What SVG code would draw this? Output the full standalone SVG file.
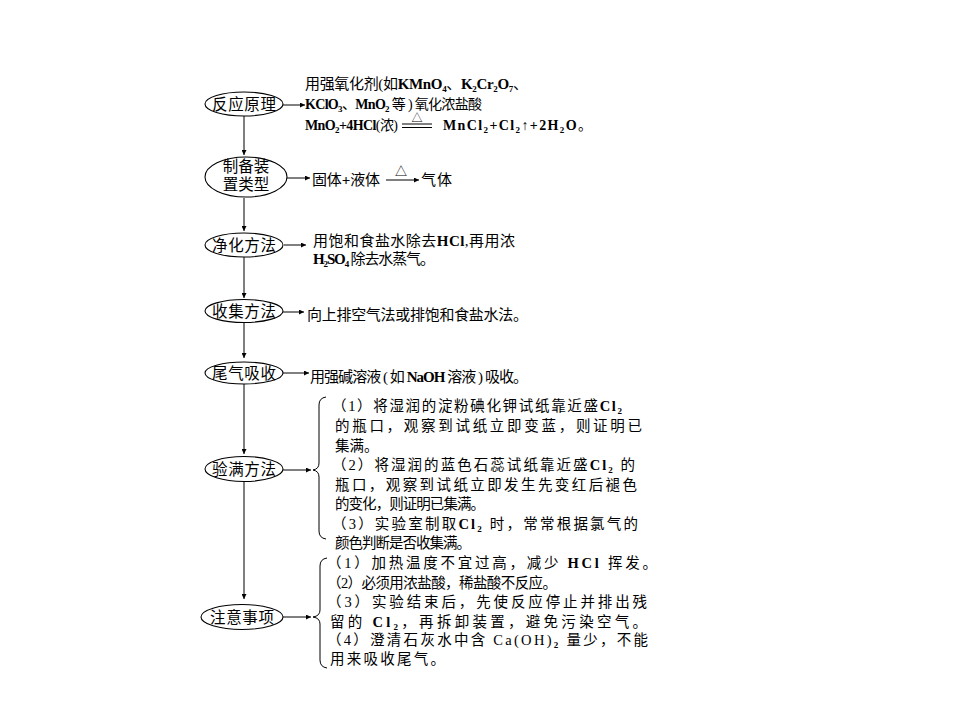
<svg xmlns="http://www.w3.org/2000/svg" width="960" height="720" viewBox="0 0 960 720">
<style>
text{font-family:"Liberation Serif","Noto Sans CJK SC",serif;fill:#000;}
.lb{font-size:15.5px;text-anchor:middle;}
.t{font-size:15px;}
.t2{font-size:14px;}
.b{font-size:14.5px;}
.lat{font-weight:bold;}
.s{font-size:9px;font-weight:bold;}
.el{fill:#fff;stroke:#000;stroke-width:1.1;}
.ln{stroke:#000;stroke-width:1;fill:none;}
</style>
<defs>
<marker id="ah" viewBox="0 0 10 10" refX="10" refY="5" markerWidth="7" markerHeight="5" orient="auto" markerUnits="userSpaceOnUse"><path d="M0,0 L10,5 L0,10 z" fill="#000"/></marker>
</defs>
<rect width="960" height="720" fill="#fff"/>

<g id="connectors">
<line class="ln" x1="244" y1="116" x2="244" y2="155" marker-end="url(#ah)"/>
<line class="ln" x1="244" y1="198" x2="244" y2="231" marker-end="url(#ah)"/>
<line class="ln" x1="244" y1="257" x2="244" y2="298" marker-end="url(#ah)"/>
<line class="ln" x1="244" y1="322" x2="244" y2="358" marker-end="url(#ah)"/>
<line class="ln" x1="244" y1="384" x2="244" y2="454" marker-end="url(#ah)"/>
<line class="ln" x1="244" y1="481" x2="244" y2="599" marker-end="url(#ah)"/>
<line class="ln" x1="283" y1="105" x2="305" y2="105" marker-end="url(#ah)"/>
<line class="ln" x1="287" y1="178" x2="310" y2="178" marker-end="url(#ah)"/>
<line class="ln" x1="284" y1="245" x2="306" y2="245" marker-end="url(#ah)"/>
<line class="ln" x1="283" y1="312" x2="304" y2="312" marker-end="url(#ah)"/>
<line class="ln" x1="283" y1="373" x2="309" y2="373" marker-end="url(#ah)"/>
<line class="ln" x1="283" y1="470" x2="311" y2="470" marker-end="url(#ah)"/>
<line class="ln" x1="283" y1="617" x2="311" y2="617" marker-end="url(#ah)"/>
</g>

<g id="n1">
<ellipse class="el" cx="244" cy="104" rx="39" ry="12"/>
<text class="lb" x="244" y="110" textLength="64">反应原理</text>
</g>
<g id="n2">
<ellipse class="el" cx="246" cy="177" rx="41" ry="20"/>
<text class="lb" x="246" y="172">制备装</text>
<text class="lb" x="246" y="190">置类型</text>
</g>
<g id="n3">
<ellipse class="el" cx="244" cy="245" rx="39" ry="12"/>
<text class="lb" x="244" y="251" textLength="64">净化方法</text>
</g>
<g id="n4">
<ellipse class="el" cx="244" cy="311" rx="39" ry="11.5"/>
<text class="lb" x="244" y="317" textLength="64">收集方法</text>
</g>
<g id="n5">
<ellipse class="el" cx="244" cy="373" rx="39" ry="11"/>
<text class="lb" x="244" y="379" textLength="64">尾气吸收</text>
</g>
<g id="n6">
<ellipse class="el" cx="244" cy="469" rx="39" ry="12.5"/>
<text class="lb" x="244" y="475" textLength="64">验满方法</text>
</g>
<g id="n7">
<ellipse class="el" cx="242" cy="617" rx="41" ry="12.5"/>
<text class="lb" x="242" y="623" textLength="64">注意事项</text>
</g>

<g id="t1">
<text class="t" x="305" y="89" textLength="223">用强氧化剂(如<tspan class="lat">KMnO</tspan><tspan class="s" dy="3">4</tspan><tspan dy="-3">、</tspan><tspan class="lat">K</tspan><tspan class="s" dy="3">2</tspan><tspan class="lat" dy="-3">Cr</tspan><tspan class="s" dy="3">2</tspan><tspan class="lat" dy="-3">O</tspan><tspan class="s" dy="3">7</tspan><tspan dy="-3">、</tspan></text>
<text class="t2" x="305" y="109" textLength="177"><tspan class="lat">KClO</tspan><tspan class="s" dy="3">3</tspan><tspan dy="-3">、</tspan><tspan class="lat">MnO</tspan><tspan class="s" dy="3">2</tspan><tspan dy="-3"> 等 ) 氧化浓盐酸</tspan></text>
<text x="305" y="130" font-size="14" textLength="93"><tspan class="lat">MnO</tspan><tspan class="s" dy="3">2</tspan><tspan class="lat" dy="-3">+4HCl</tspan>(浓)</text>
<line class="ln" x1="402" y1="124" x2="432" y2="124"/>
<line class="ln" x1="402" y1="127.5" x2="432" y2="127.5"/>
<text x="417" y="122" font-size="11" text-anchor="middle">△</text>
<text x="443" y="130" font-size="14" textLength="149"><tspan class="lat">MnCl</tspan><tspan class="s" dy="3">2</tspan><tspan class="lat" dy="-3">+Cl</tspan><tspan class="s" dy="3">2</tspan><tspan dy="-3">↑</tspan><tspan class="lat">+2H</tspan><tspan class="s" dy="3">2</tspan><tspan class="lat" dy="-3">O</tspan>。</text>
</g>

<g id="t2">
<text class="t" x="312" y="185" textLength="68">固体<tspan class="lat">+</tspan>液体</text>
<line class="ln" x1="386" y1="180" x2="419" y2="180" marker-end="url(#ah)"/>
<text x="401" y="176" font-size="12" text-anchor="middle">△</text>
<text class="t" x="421" y="185" textLength="31">气体</text>
</g>

<g id="t3">
<text class="t" x="313" y="246" textLength="202">用饱和食盐水除去<tspan class="lat">HCl</tspan>,再用浓</text>
<text class="t" x="313" y="264" textLength="122"><tspan class="lat">H</tspan><tspan class="s" dy="3">2</tspan><tspan class="lat" dy="-3">SO</tspan><tspan class="s" dy="3">4</tspan><tspan dy="-3"> 除去水蒸气。</tspan></text>
</g>

<g id="t4">
<text class="t" x="307" y="320" textLength="221">向上排空气法或排饱和食盐水法。</text>
</g>

<g id="t5">
<text class="t" x="310" y="382" textLength="218">用强碱溶液 ( 如 <tspan class="lat">NaOH</tspan> 溶液 ) 吸收。</text>
</g>

<g id="t6">
<path class="ln" d="M326,397 Q319,398 319,405 L319,463 Q319,469 313,470 Q319,471 319,477 L319,531 Q319,538 326,539"/>
<text class="b" x="332" y="411" textLength="290">（1）将湿润的淀粉碘化钾试纸靠近盛<tspan class="lat">Cl</tspan><tspan class="s" dy="3">2</tspan></text>
<text class="b" x="335" y="431" textLength="307">的瓶口，观察到试纸立即变蓝，则证明已</text>
<text class="b" x="335" y="451">集满。</text>
<text class="b" x="332" y="470" textLength="303">（2）将湿润的蓝色石蕊试纸靠近盛<tspan class="lat">Cl</tspan><tspan class="s" dy="3">2</tspan><tspan dy="-3"> 的</tspan></text>
<text class="b" x="335" y="490" textLength="302">瓶口，观察到试纸立即发生先变红后褪色</text>
<text class="b" x="335" y="509" textLength="150">的变化，则证明已集满。</text>
<text class="b" x="332" y="529" textLength="306">（3）实验室制取<tspan class="lat">Cl</tspan><tspan class="s" dy="3">2</tspan><tspan dy="-3"> 时，常常根据氯气的</tspan></text>
<text class="b" x="335" y="548" textLength="136">颜色判断是否收集满。</text>
</g>

<g id="t7">
<path class="ln" d="M327,558 Q320,559 320,566 L320,610 Q320,616 313,617 Q320,618 320,624 L320,660 Q320,667 327,668"/>
<text class="b" x="327" y="568" textLength="330">（1）加热温度不宜过高，减少 <tspan class="lat">HCl</tspan> 挥发。</text>
<text class="b" x="327" y="588" textLength="230">（2）必须用浓盐酸，稀盐酸不反应。</text>
<text class="b" x="327" y="607" textLength="320">（3）实验结束后，先使反应停止并排出残</text>
<text class="b" x="330" y="627" textLength="317">留的 <tspan class="lat">Cl</tspan><tspan class="s" dy="3">2</tspan><tspan dy="-3">，再拆卸装置，避免污染空气。</tspan></text>
<text class="b" x="327" y="645" textLength="321">（4）澄清石灰水中含 Ca(OH)<tspan class="s" dy="3">2</tspan><tspan dy="-3"> 量少，不能</tspan></text>
<text class="b" x="330" y="664" textLength="115">用来吸收尾气。</text>
</g>
</svg>
